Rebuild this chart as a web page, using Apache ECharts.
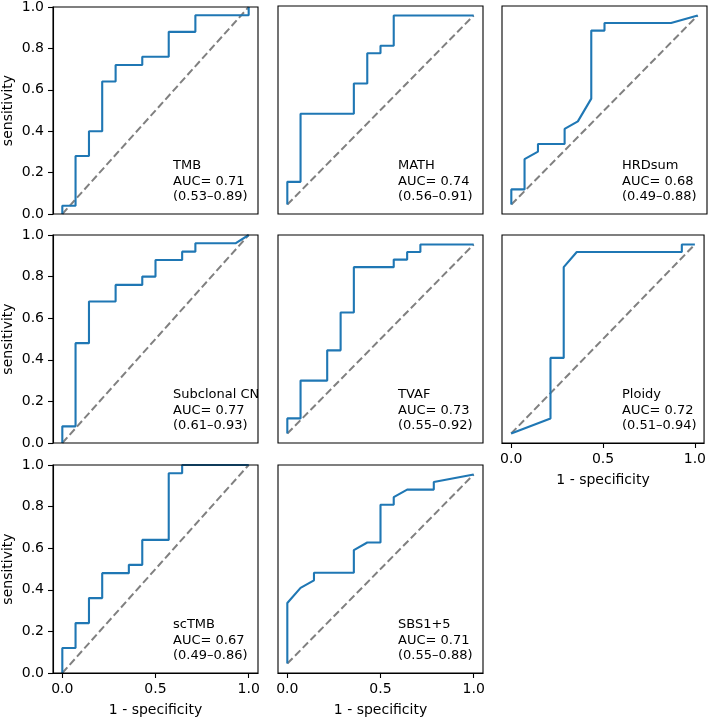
<!DOCTYPE html>
<html>
<head>
<meta charset="utf-8">
<script src="https://cdn.jsdelivr.net/npm/echarts@6/dist/echarts.min.js"></script>
<style>
  html, body { margin: 0; padding: 0; background: #fff; }
  #chart { width: 709px; height: 718px; }
</style>
</head>
<body>
<div id="chart"></div>
<script>
// panel labels and AUC numbers
const panelNames = ["TMB", "MATH", "HRDsum", "Subclonal CN", "TVAF", "Ploidy", "scTMB", "SBS1+5"];
const aucValues = [0.71, 0.74, 0.68, 0.77, 0.73, 0.72, 0.67, 0.71];
const ciLow = [0.53, 0.56, 0.49, 0.61, 0.55, 0.51, 0.49, 0.55];
const ciHigh = [0.89, 0.91, 0.88, 0.93, 0.92, 0.94, 0.86, 0.88];

// ROC curves (1 - specificity, sensitivity)
const tmbFpr = [0, 0, 0.071, 0.071, 0.143, 0.143, 0.214, 0.214, 0.286, 0.286, 0.429, 0.429, 0.571, 0.571, 0.714, 0.714, 1, 1];
const tmbTpr = [0, 0.04, 0.04, 0.28, 0.28, 0.40, 0.40, 0.64, 0.64, 0.72, 0.72, 0.76, 0.76, 0.88, 0.88, 0.96, 0.96, 1];

const mathFpr = [0, 0, 0.071, 0.071, 0.357, 0.357, 0.429, 0.429, 0.5, 0.5, 0.571, 0.571, 1];
const mathTpr = [0, 0.12, 0.12, 0.48, 0.48, 0.64, 0.64, 0.80, 0.80, 0.84, 0.84, 1, 1];

const hrdFpr = [0, 0, 0.071, 0.071, 0.143, 0.143, 0.286, 0.286, 0.357, 0.429, 0.429, 0.5, 0.5, 0.857, 1];
const hrdTpr = [0, 0.08, 0.08, 0.24, 0.28, 0.32, 0.32, 0.40, 0.44, 0.56, 0.92, 0.92, 0.96, 0.96, 1];

const subcnFpr = [0, 0, 0.071, 0.071, 0.143, 0.143, 0.286, 0.286, 0.429, 0.429, 0.5, 0.5, 0.643, 0.643, 0.714, 0.714, 0.929, 1];
const subcnTpr = [0, 0.08, 0.08, 0.48, 0.48, 0.68, 0.68, 0.76, 0.76, 0.80, 0.80, 0.88, 0.88, 0.92, 0.92, 0.96, 0.96, 1];

const tvafFpr = [0, 0, 0.071, 0.071, 0.214, 0.214, 0.286, 0.286, 0.357, 0.357, 0.571, 0.571, 0.643, 0.643, 0.714, 0.714, 1];
const tvafTpr = [0, 0.08, 0.08, 0.28, 0.28, 0.44, 0.44, 0.64, 0.64, 0.88, 0.88, 0.92, 0.92, 0.96, 0.96, 1, 1];

const ploidyFpr = [0, 0.214, 0.214, 0.286, 0.286, 0.357, 0.929, 0.929, 1];
const ploidyTpr = [0, 0.08, 0.40, 0.40, 0.88, 0.96, 0.96, 1, 1];

const sctmbFpr = [0, 0, 0.071, 0.071, 0.143, 0.143, 0.214, 0.214, 0.357, 0.357, 0.429, 0.429, 0.571, 0.571, 0.643, 0.643, 1];
const sctmbTpr = [0, 0.12, 0.12, 0.24, 0.24, 0.36, 0.36, 0.48, 0.48, 0.52, 0.52, 0.64, 0.64, 0.96, 0.96, 1, 1];

const sbsFpr = [0, 0, 0.071, 0.143, 0.143, 0.357, 0.357, 0.429, 0.5, 0.5, 0.571, 0.571, 0.643, 0.786, 0.786, 1];
const sbsTpr = [0, 0.32, 0.40, 0.44, 0.48, 0.48, 0.60, 0.64, 0.64, 0.84, 0.84, 0.88, 0.92, 0.92, 0.96, 1];

const xTicks = [0, 0.5, 1];

const curves = [
  [tmbFpr, tmbTpr], [mathFpr, mathTpr], [hrdFpr, hrdTpr],
  [subcnFpr, subcnTpr], [tvafFpr, tvafTpr], [ploidyFpr, ploidyTpr],
  [sctmbFpr, sctmbTpr], [sbsFpr, sbsTpr]
];

const FONT = "DejaVu Sans";
const colLeft = [53, 278, 502];
const rowTop = [6, 235, 465];
const W = 205, H = 208;

// which panels show y labels / x labels
const yLabelPanels = [0, 3, 6];
const xLabelPanels = [5, 6, 7];

const myChart = echarts.init(document.getElementById("chart"), null, { renderer: "canvas" });

const grids = [], xAxes = [], yAxes = [], series = [], titles = [];

curves.forEach((c, i) => {
  const col = i % 3, row = Math.floor(i / 3);
  const left = colLeft[col], top = rowTop[row];
  const hasY = yLabelPanels.includes(i);
  const hasX = xLabelPanels.includes(i);

  // z high so the frame sits above the curves, like matplotlib spines
  grids.push({
    left: left, top: top, width: W, height: H, z: 10,
    show: true, borderColor: "#000", borderWidth: 1.1, backgroundColor: "transparent"
  });

  xAxes.push({
    type: "value", gridIndex: i, min: -0.05, max: 1.05,
    show: hasX, z: 10,
    splitLine: { show: false },
    axisLine: { show: true, onZero: false, lineStyle: { color: "#000", width: 1.1 } },
    axisTick: { show: true, length: 5, customValues: xTicks, lineStyle: { color: "#000", width: 1.1 } },
    axisLabel: {
      customValues: xTicks, margin: 9, color: "#000", fontFamily: FONT, fontSize: 14,
      formatter: (v) => v.toFixed(1)
    },
    name: hasX ? "1 - specificity" : "",
    nameLocation: "middle", nameGap: 30,
    nameTextStyle: { color: "#000", fontFamily: FONT, fontSize: 14 }
  });

  yAxes.push(hasY ? {
    type: "value", gridIndex: i, min: 0, max: 1, interval: 0.2, z: 10,
    splitLine: { show: false },
    axisLine: { show: true, onZero: false, lineStyle: { color: "#000", width: 1.1 } },
    axisTick: { show: true, length: 5, lineStyle: { color: "#000", width: 1.1 } },
    axisLabel: { margin: 9, color: "#000", fontFamily: FONT, fontSize: 14, formatter: (v) => v.toFixed(1) },
    name: "sensitivity", nameLocation: "middle", nameGap: 38,
    nameTextStyle: { color: "#000", fontFamily: FONT, fontSize: 14 }
  } : {
    type: "value", gridIndex: i, min: -0.05, max: 1.05, show: false,
    splitLine: { show: false }
  });

  // chance line
  series.push({
    type: "line", xAxisIndex: i, yAxisIndex: i,
    data: [[0, 0], [1, 1]],
    symbol: "none", silent: true, z: 2,
    lineStyle: { color: "#808080", width: 2, type: [7.5, 3.5] }
  });

  series.push({
    type: "line", xAxisIndex: i, yAxisIndex: i,
    data: c[0].map((x, k) => [x, c[1][k]]),
    symbol: "none", z: 3,
    lineStyle: { color: "#1f77b4", width: 2.1 }
  });

  titles.push({
    text: panelNames[i] + "\nAUC= " + aucValues[i].toFixed(2) +
      "\n(" + ciLow[i].toFixed(2) + "\u2013" + ciHigh[i].toFixed(2) + ")",
    left: left + 120, top: top + 152, padding: 0,
    textStyle: { fontFamily: FONT, fontSize: 13, fontWeight: "normal", color: "#000", lineHeight: 15.5 }
  });
});

const option = {
  backgroundColor: "#fff",
  animation: false,
  title: titles,
  grid: grids,
  xAxis: xAxes,
  yAxis: yAxes,
  series: series
};

myChart.setOption(option);
window.addEventListener("resize", myChart.resize);
</script>
</body>
</html>
